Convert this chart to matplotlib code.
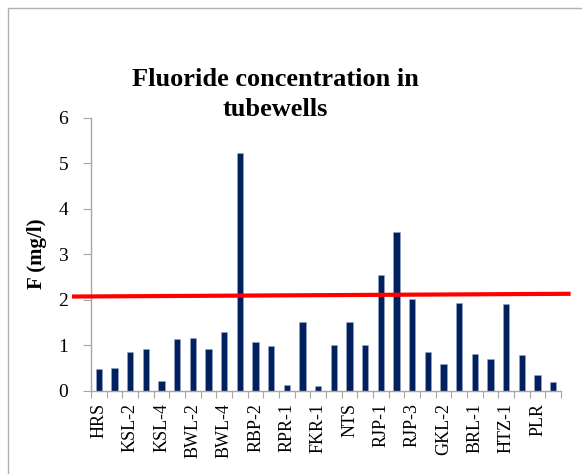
import matplotlib

matplotlib.use("Agg")
import matplotlib.pyplot as plt
from matplotlib.patches import Rectangle
import numpy as np

# site labels as shown on the axis (every second category label is hidden in the source)
sites = ["HRS", "", "KSL-2", "", "KSL-4", "", "BWL-2", "", "BWL-4", "",
         "RBP-2", "", "RPR-1", "", "FKR-1", "", "NTS", "", "RJP-1", "",
         "RJP-3", "", "GKL-2", "", "BRL-1", "", "HTZ-1", "", "PLR", ""]
fluoride = [0.47, 0.51, 0.85, 0.91, 0.21, 1.13, 1.16, 0.92, 1.30, 5.23,
            1.07, 0.98, 0.12, 1.52, 0.10, 1.00, 1.52, 1.01, 2.55, 3.48,
            2.01, 0.86, 0.58, 1.92, 0.81, 0.69, 1.91, 0.78, 0.34, 0.20]
limit_line = [2.07, 2.13]  # hand-drawn red limit line, left and right end

plt.rcParams["font.family"] = ["Liberation Serif", "DejaVu Serif"]

fig = plt.figure(figsize=(5.82, 4.74), dpi=100)
ax = fig.add_axes([0.1564, 0.1757, 0.8076, 0.5760])

x = np.arange(len(fluoride))
ax.bar(x, fluoride, width=0.4, color="#002060", edgecolor="#9AA8C8", linewidth=0.4, zorder=2)

ax.set_xlim(-0.5, len(fluoride) - 0.5)
ax.set_ylim(0, 6)
ax.set_yticks(np.arange(0, 7, 1))
ax.tick_params(axis="y", labelsize=14, length=5.5, width=0.8, color="#A6A6A6", pad=11)

# category boundaries get the tick marks, centres get the labels
ax.set_xticks(np.arange(-0.5, len(fluoride), 1))
ax.set_xticklabels([])
ax.set_xticks(x, sites, minor=True, rotation=90, fontsize=13)
ax.tick_params(axis="x", which="major", length=5, width=0.8, color="#A6A6A6")
ax.tick_params(axis="x", which="minor", length=0, pad=9)

for side in ["top", "right"]:
    ax.spines[side].set_visible(False)
for side in ["left", "bottom"]:
    ax.spines[side].set_color("#A6A6A6")
    ax.spines[side].set_linewidth(1.0)

ax.set_ylabel("F (mg/l)", fontsize=15, fontweight="bold")
ax.yaxis.label.set_va("center")
ax.yaxis.set_label_coords(-0.115, 0.5)

# red line runs a little past both ends of the axis
x0, x1 = ax.get_xlim()
ax.plot([x0 + (x1 - x0) * -0.036, x0 + (x1 - x0) * 1.016], limit_line,
        color="#FF0000", lw=3, clip_on=False, zorder=3)
ax.set_xlim(x0, x1)
ax.set_ylim(0, 6)

fig.text(0.4725, 0.800, "Fluoride concentration in\ntubewells", ha="center", va="center",
         fontsize=19, fontweight="bold", linespacing=1.4)

fig.patches.append(Rectangle((8 / 582, -0.1), 1.2, 1.1 - 8 / 474, transform=fig.transFigure,
                             fill=False, edgecolor="#B0B0B0", lw=1.0))

fig.savefig("out.png", dpi=100)
